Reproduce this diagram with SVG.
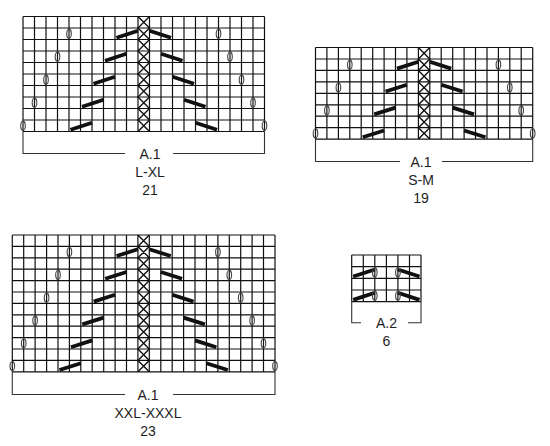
<svg xmlns="http://www.w3.org/2000/svg" xmlns:xlink="http://www.w3.org/1999/xlink" width="550" height="446" viewBox="0 0 550 446">
<style>
.g{fill:none;stroke:#111;stroke-width:1.2}
.x{fill:none;stroke:#111;stroke-width:1.4}
.d{stroke:#111;stroke-width:3.8;stroke-linecap:butt}
.yo{fill:none;stroke:#444;stroke-width:1.1}
.br{fill:none;stroke:#333;stroke-width:1.1}
text{font-family:"Liberation Sans",Arial,sans-serif;font-size:14px;fill:#1e1e1e;text-anchor:middle}
</style>
<defs><ellipse id="yo" class="yo" rx="2.3" ry="4.6"/></defs>
<rect width="550" height="446" fill="#fff"/>

<g id="chart-A1-LXL">
<path class="g" d="M23 16.5V131.5M34.5 16.5V131.5M46 16.5V131.5M57.5 16.5V131.5M69 16.5V131.5M80.5 16.5V131.5M92 16.5V131.5M103.5 16.5V131.5M115 16.5V131.5M126.5 16.5V131.5M138 16.5V131.5M149.5 16.5V131.5M161 16.5V131.5M172.5 16.5V131.5M184 16.5V131.5M195.5 16.5V131.5M207 16.5V131.5M218.5 16.5V131.5M230 16.5V131.5M241.5 16.5V131.5M253 16.5V131.5M264.5 16.5V131.5M23 16.5H264.5M23 28H264.5M23 39.5H264.5M23 51H264.5M23 62.5H264.5M23 74H264.5M23 85.5H264.5M23 97H264.5M23 108.5H264.5M23 120H264.5M23 131.5H264.5"/>
<path class="x" d="M138 16.5L149.5 28L138 39.5L149.5 51L138 62.5L149.5 74L138 85.5L149.5 97L138 108.5L149.5 120L138 131.5M149.5 16.5L138 28L149.5 39.5L138 51L149.5 62.5L138 74L149.5 85.5L138 97L149.5 108.5L138 120L149.5 131.5"/>
<path class="d" d="M116.5 37.7L138 30.8M149.5 30.8L171 37.7M105 60.7L126.5 53.8M161 53.8L182.5 60.7M93.5 83.7L115 76.8M172.5 76.8L194 83.7M82 106.7L103.5 99.8M184 99.8L205.5 106.7M70.5 129.7L92 122.8M195.5 122.8L217 129.7"/>
<use xlink:href="#yo" x="69" y="33.75"/><use xlink:href="#yo" x="218.5" y="33.75"/>
<use xlink:href="#yo" x="57.5" y="56.75"/><use xlink:href="#yo" x="230" y="56.75"/>
<use xlink:href="#yo" x="46" y="79.75"/><use xlink:href="#yo" x="241.5" y="79.75"/>
<use xlink:href="#yo" x="34.5" y="102.75"/><use xlink:href="#yo" x="253" y="102.75"/>
<use xlink:href="#yo" x="23" y="125.75"/><use xlink:href="#yo" x="264.5" y="125.75"/>
<path class="br" d="M23 131.5V153.5H125M173 153.5H264.5V131.5"/>
<text x="150" y="158.5">A.1</text>
<text x="150" y="176.5">L-XL</text>
<text x="150" y="195">21</text>
</g>

<g id="chart-A1-SM">
<path class="g" d="M315.5 47.5V139.1M326.9 47.5V139.1M338.4 47.5V139.1M349.8 47.5V139.1M361.2 47.5V139.1M372.7 47.5V139.1M384.1 47.5V139.1M395.5 47.5V139.1M406.9 47.5V139.1M418.4 47.5V139.1M429.8 47.5V139.1M441.2 47.5V139.1M452.7 47.5V139.1M464.1 47.5V139.1M475.5 47.5V139.1M487 47.5V139.1M498.4 47.5V139.1M509.8 47.5V139.1M521.2 47.5V139.1M532.7 47.5V139.1M315.5 47.5H532.7M315.5 59H532.7M315.5 70.4H532.7M315.5 81.9H532.7M315.5 93.3H532.7M315.5 104.8H532.7M315.5 116.2H532.7M315.5 127.7H532.7M315.5 139.1H532.7"/>
<path class="x" d="M418.4 47.5L429.8 59L418.4 70.4L429.8 81.9L418.4 93.3L429.8 104.8L418.4 116.2L429.8 127.7L418.4 139.1M429.8 47.5L418.4 59L429.8 70.4L418.4 81.9L429.8 93.3L418.4 104.8L429.8 116.2L418.4 127.7L429.8 139.1"/>
<path class="d" d="M397 68.6L418.4 61.8M429.8 61.8L451.2 68.6M385.6 91.5L406.9 84.7M441.2 84.7L462.6 91.5M374.2 114.4L395.5 107.6M452.7 107.6L474 114.4M362.7 137.3L384.1 130.5M464.1 130.5L485.5 137.3"/>
<use xlink:href="#yo" x="349.8" y="64.7"/><use xlink:href="#yo" x="498.4" y="64.7"/>
<use xlink:href="#yo" x="338.4" y="87.6"/><use xlink:href="#yo" x="509.8" y="87.6"/>
<use xlink:href="#yo" x="326.9" y="110.5"/><use xlink:href="#yo" x="521.2" y="110.5"/>
<use xlink:href="#yo" x="315.5" y="133.4"/><use xlink:href="#yo" x="532.7" y="133.4"/>
<path class="br" d="M315.5 139.1V161.5H400M442 161.5H532.7V139.1"/>
<text x="421" y="166.5">A.1</text>
<text x="421" y="184.5">S-M</text>
<text x="421" y="203">19</text>
</g>

<g id="chart-A1-XXL">
<path class="g" d="M12.3 235V371.8M23.7 235V371.8M35.1 235V371.8M46.6 235V371.8M58 235V371.8M69.4 235V371.8M80.8 235V371.8M92.2 235V371.8M103.7 235V371.8M115.1 235V371.8M126.5 235V371.8M137.9 235V371.8M149.3 235V371.8M160.8 235V371.8M172.2 235V371.8M183.6 235V371.8M195 235V371.8M206.4 235V371.8M217.9 235V371.8M229.3 235V371.8M240.7 235V371.8M252.1 235V371.8M263.5 235V371.8M275 235V371.8M12.3 235H275M12.3 246.4H275M12.3 257.8H275M12.3 269.2H275M12.3 280.6H275M12.3 292H275M12.3 303.4H275M12.3 314.8H275M12.3 326.2H275M12.3 337.6H275M12.3 349H275M12.3 360.4H275M12.3 371.8H275"/>
<path class="x" d="M137.9 235L149.3 246.4L137.9 257.8L149.3 269.2L137.9 280.6L149.3 292L137.9 303.4L149.3 314.8L137.9 326.2L149.3 337.6L137.9 349L149.3 360.4L137.9 371.8M149.3 235L137.9 246.4L149.3 257.8L137.9 269.2L149.3 280.6L137.9 292L149.3 303.4L137.9 314.8L149.3 326.2L137.9 337.6L149.3 349L137.9 360.4L149.3 371.8"/>
<path class="d" d="M116.6 256L137.9 249.2M149.3 249.2L170.7 256M105.2 278.8L126.5 272M160.8 272L182.1 278.8M93.7 301.6L115.1 294.8M172.2 294.8L193.5 301.6M82.3 324.4L103.7 317.6M183.6 317.6L204.9 324.4M70.9 347.2L92.2 340.4M195 340.4L216.4 347.2M59.5 370L80.8 363.2M206.4 363.2L227.8 370"/>
<use xlink:href="#yo" x="69.4" y="252.1"/><use xlink:href="#yo" x="217.9" y="252.1"/>
<use xlink:href="#yo" x="58" y="274.9"/><use xlink:href="#yo" x="229.3" y="274.9"/>
<use xlink:href="#yo" x="46.6" y="297.7"/><use xlink:href="#yo" x="240.7" y="297.7"/>
<use xlink:href="#yo" x="35.1" y="320.5"/><use xlink:href="#yo" x="252.1" y="320.5"/>
<use xlink:href="#yo" x="23.7" y="343.3"/><use xlink:href="#yo" x="263.5" y="343.3"/>
<use xlink:href="#yo" x="12.3" y="366.1"/><use xlink:href="#yo" x="275" y="366.1"/>
<path class="br" d="M12.3 371.8V394.5H125M173 394.5H275V371.8"/>
<text x="148" y="399.5">A.1</text>
<text x="148" y="417.5">XXL-XXXL</text>
<text x="148" y="436">23</text>
</g>

<g id="chart-A2">
<path class="g" d="M351.7 255V301.7M363.3 255V301.7M374.8 255V301.7M386.4 255V301.7M397.9 255V301.7M409.5 255V301.7M421 255V301.7M351.7 255H421M351.7 266.7H421M351.7 278.3H421M351.7 290H421M351.7 301.7H421"/>
<path class="d" d="M353.2 276.5L374.8 269.5M397.9 269.5L419.5 276.5M353.2 299.9L374.8 292.8M397.9 292.8L419.5 299.9"/>
<use xlink:href="#yo" x="374.8" y="272.5"/><use xlink:href="#yo" x="397.9" y="272.5"/>
<use xlink:href="#yo" x="374.8" y="295.8"/><use xlink:href="#yo" x="397.9" y="295.8"/>
<path class="br" d="M351.7 301.7V322.7H361M408 322.7H421V301.7"/>
<text x="386.5" y="327.5">A.2</text>
<text x="386.5" y="346">6</text>
</g>
</svg>
